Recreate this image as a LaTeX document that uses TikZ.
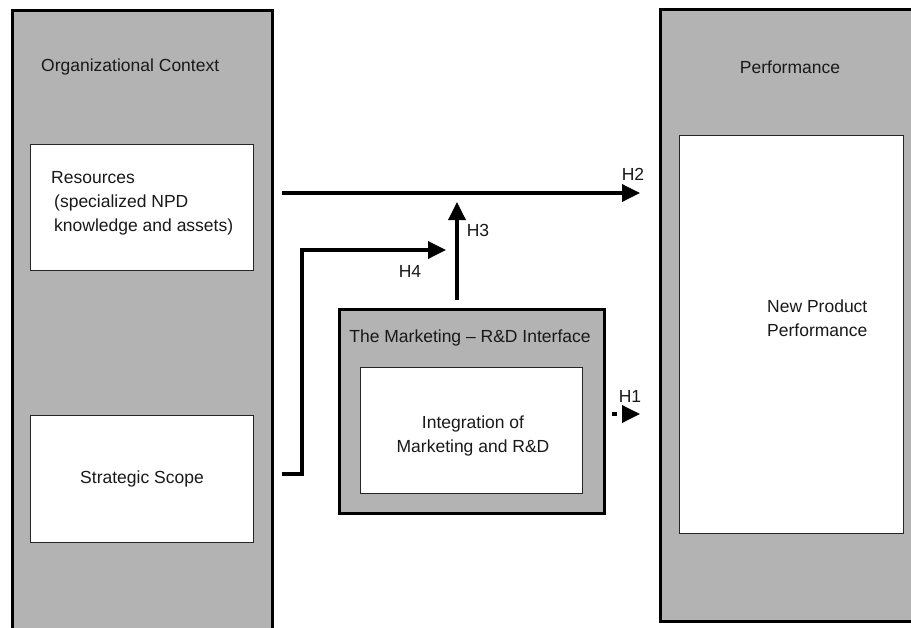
\documentclass[tikz,border=0pt]{standalone}
\usepackage{fontspec}
\setmainfont{Liberation Sans}
\usetikzlibrary{arrows.meta}
\definecolor{panelgray}{RGB}{179,179,179}
\tikzset{
  panel/.style={draw=black, line width=3pt, fill=panelgray, rectangle, inner sep=0pt, anchor=north west},
  whitebox/.style={draw=black!85, line width=1pt, fill=white, rectangle, inner sep=0pt, anchor=north west},
  txt/.style={inner sep=0pt, font=\fontsize{17.5}{24}\selectfont, text=black!90},
  arr/.style={line width=3.5pt, -{Triangle[length=18pt,width=17pt]}},
  dotarr/.style={line width=3.5pt, dash pattern=on 5pt off 5pt, -{Triangle[length=18pt,width=17pt]}}
}
\begin{document}
\begin{tikzpicture}[x=1pt,y=-1pt]
\clip (0,0) rectangle (911,627);
\fill[white] (0,0) rectangle (911,627);
% panels
\node[panel, minimum width=260pt, minimum height=640pt] (ctx) at (11,9) {};
\node[panel, minimum width=280pt, minimum height=612pt] (perf) at (659,8) {};
\node[panel, minimum width=265pt, minimum height=204pt] (mri) at (338,308) {};
% inner boxes
\node[whitebox, minimum width=223pt, minimum height=126pt] (res) at (30,144) {};
\node[whitebox, minimum width=223pt, minimum height=127pt] (scope) at (30,415) {};
\node[whitebox, minimum width=222pt, minimum height=126pt] (integ) at (360,367) {};
\node[whitebox, minimum width=224pt, minimum height=398pt] (npp) at (679,135) {};
% texts
\node[txt, anchor=west] (ctxt) at (41,67) {Organizational Context};
\node[txt] (perft) at (790,67) {Performance};
\node[txt] (mrit) at (470,338) {The Marketing -- R\&D Interface};
\node[txt, anchor=north west, align=left] (rest) at (51,171) {Resources\\\hspace{3pt}(specialized NPD\\\hspace{3pt}knowledge and assets)};
\node[txt] (scopet) at (scope.center) {Strategic Scope};
\node[txt, align=center] (integt) at (473,436) {Integration of\\Marketing and R\&D};
\node[txt, align=left, anchor=west] (nppt) at (767,318) {New Product\\Performance};
% connectors
\coordinate (h2s) at (282,193);
\coordinate (h2e) at (640,193);
\coordinate (h3e) at (457,202);
\coordinate (h4s) at (282,474);
\coordinate (h4c) at (302,250);
\coordinate (h4e) at (446,250);
\coordinate (h1s) at (612,414);
\coordinate (h1e) at (640,414);
\draw[arr] ([yshift=8pt]mri.north -| h3e) -- (h3e);
\draw[arr] (h2s) -- (h2e);
\draw[arr, line join=miter] (h4s) -| (h4c) -- (h4e);
\draw[dotarr] (h1s) -- (h1e);
% labels
\node[txt] (h2l) at (633,174) {H2};
\node[txt] (h3l) at (478,230) {H3};
\node[txt] (h4l) at (410,271) {H4};
\node[txt] (h1l) at (630,396) {H1};
\end{tikzpicture}
\end{document}
